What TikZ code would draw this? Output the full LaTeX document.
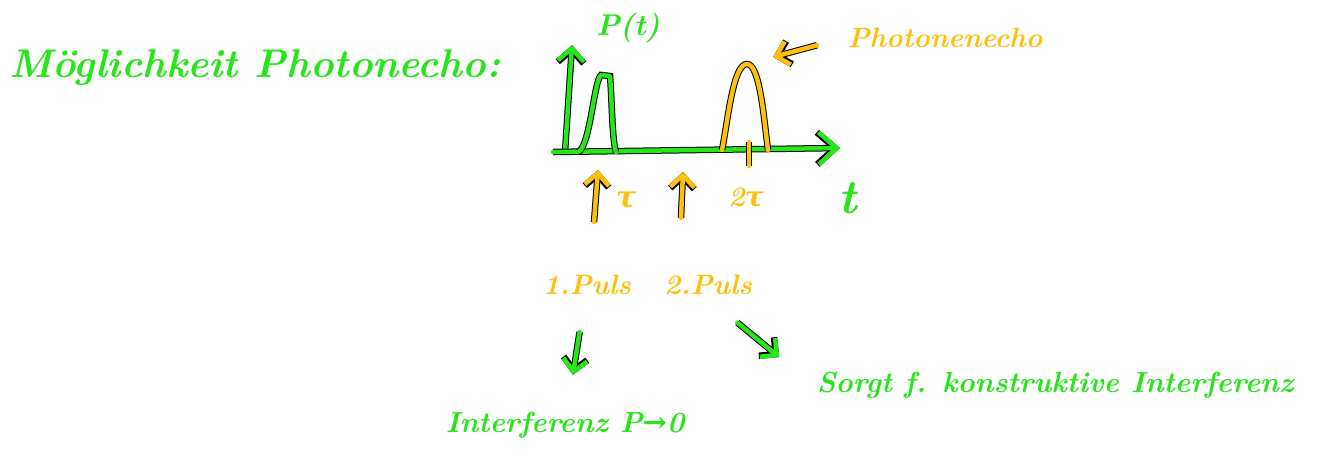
\documentclass[tikz,border=0pt]{standalone}
\usepackage{fontspec}
\newfontfamily\inksym{DejaVu Serif}
\usepackage{tikz}
\usetikzlibrary{arrows.meta}
\definecolor{inkgreen}{rgb}{.15,.9,.1}
\definecolor{inkorange}{rgb}{1,.75,.05}

\tikzset{
  ink/.style={line width=4.5pt,line cap=round,line join=round,preaction={draw=black,line width=6.5pt}},
  greenink/.style={ink,draw=inkgreen},
  orangeink/.style={ink,draw=inkorange},
  barb/.style={-{Straight Barb[length=12pt,width=24pt]}},
  greentext/.style={text=inkgreen,font=\bfseries\itshape\fontsize{#1}{#1}\selectfont},
  orangetext/.style={text=inkorange,font=\bfseries\itshape\fontsize{#1}{#1}\selectfont}
}

\begin{document}
\begin{tikzpicture}[x=1pt,y=-1pt]
\useasboundingbox (0,0) rectangle (1321,458);

% labels
\node[greentext=40] (title) at (255,68) {M\"oglichkeit Photonecho:};
\node[greentext=30] (Plabel) at (628,28) {P(t)};
\node[orangetext=28] (echolabel) at (945,38) {Photonenecho};
\node[greentext=48] (tlabel) at (848,198) {t};
\node[orangetext=30] (taulabel) at (626,200) {{\inksym τ}};
\node[orangetext=28] (twotaulabel) at (746,198) {2{\inksym τ}};
\node[orangetext=28] (puls1) at (587,285) {1.Puls};
\node[orangetext=28] (puls2) at (708,285) {2.Puls};
\node[greentext=29] (interf) at (565,425) {Interferenz P{\inksym →}0};
\node[greentext=29] (konstr) at (1055,385) {Sorgt f. konstruktive Interferenz};

% axes
\coordinate (origin) at (565,152);
\coordinate (ytop) at (572,45);
\coordinate (xleft) at (553,152);
\coordinate (xright) at (840,148);
\draw[greenink,-{Straight Barb[length=13pt,width=26pt]}] (origin) -- (ytop);
\draw[greenink,-{Straight Barb[length=18pt,width=32pt]}] (xleft) -- (xright);

% first pulse
\draw[greenink] (578,152) .. controls (590,148) and (594,80) .. (601,75) -- (610,76)
  .. controls (612,100) and (612,140) .. (616,152);

% echo
\coordinate (echopeak) at (747,64);
\draw[orangeink] (722,150) .. controls (728,120) and (733,64) .. (echopeak)
  .. controls (760,64) and (764,120) .. (768,150);
\draw[orangeink] (749,142) -- (749,166);
\draw[orangeink,barb,shorten <=28pt,shorten >=27pt] (echolabel.west) -- (echopeak);

% pulse marks
\coordinate (pulsea) at (594,222);
\coordinate (pulseatip) at (598,170);
\coordinate (pulseb) at (681,218);
\coordinate (pulsebtip) at (683,172);
\draw[orangeink,barb] (pulsea) -- (pulseatip);
\draw[orangeink,barb] (pulseb) -- (pulsebtip);

% consequences
\draw[greenink,barb,shorten <=34pt,shorten >=34pt] (puls1) -- (interf);
\draw[greenink,barb,shorten <=38pt,shorten >=44pt] (puls2.south) -- (konstr.west);

\end{tikzpicture}
\end{document}
